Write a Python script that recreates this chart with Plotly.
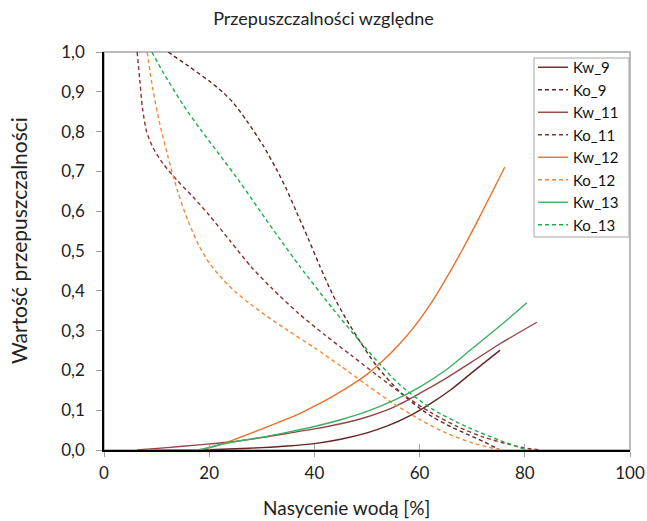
import plotly.graph_objects as go

# ---- data ----
kw9_x = [12, 20, 25, 30, 35, 40, 45, 50, 54, 58, 62, 66, 70, 75.3]
kw9_y = [0, 0.001, 0.003, 0.006, 0.01, 0.016, 0.027, 0.043, 0.061, 0.085, 0.116, 0.152, 0.195, 0.251]

ko9_x = [12.2, 16, 20, 22.5, 24.6, 27.1, 30.3, 32.8, 34.7, 36.6, 38.8, 41, 43.5, 46, 48.7, 51.9, 56.3, 60, 62.5, 66, 69, 72, 75.3]
ko9_y = [1.0, 0.965, 0.927, 0.9, 0.872, 0.828, 0.764, 0.705, 0.655, 0.598, 0.532, 0.463, 0.39, 0.33, 0.272, 0.21, 0.145, 0.105, 0.083, 0.058, 0.04, 0.022, 0.0]

kw11_x = [6.3, 12, 18, 24, 30, 35, 40, 45, 50, 55, 60, 65, 70, 75.3, 82.3]
kw11_y = [0, 0.006, 0.013, 0.02, 0.031, 0.042, 0.053, 0.066, 0.083, 0.107, 0.142, 0.18, 0.222, 0.267, 0.321]

ko11_x = [6.3, 6.8, 7.3, 8.1, 9.3, 11.2, 14, 17, 20, 24, 28, 32, 37, 42, 47, 52, 57, 62, 67, 72, 77, 80.5, 83]
ko11_y = [1.0, 0.93, 0.86, 0.80, 0.76, 0.72, 0.676, 0.635, 0.59, 0.525, 0.46, 0.405, 0.343, 0.289, 0.238, 0.187, 0.138, 0.095, 0.06, 0.033, 0.014, 0.004, 0.0]

kw12_x = [8.2, 14, 18, 20.2, 24.5, 31, 37.3, 40, 43.5, 47, 50, 53, 56, 59, 62, 65, 68, 71, 73.5, 76.2]
kw12_y = [0, 0, 0.001, 0.006, 0.025, 0.058, 0.092, 0.11, 0.135, 0.163, 0.19, 0.224, 0.264, 0.31, 0.365, 0.43, 0.5, 0.575, 0.64, 0.711]

ko12_x = [8.2, 9.3, 10.6, 12.2, 14, 16, 18, 20, 22.5, 25, 28, 31, 35, 40, 45, 50, 55, 60, 65, 70, 75.3]
ko12_y = [1.0, 0.905, 0.82, 0.735, 0.65, 0.575, 0.515, 0.47, 0.43, 0.397, 0.365, 0.336, 0.3, 0.257, 0.211, 0.163, 0.117, 0.077, 0.043, 0.018, 0.0]

kw13_x = [8.2, 12, 18, 21, 24.5, 30, 35, 40, 45, 50, 55, 60, 65, 70, 75.3, 80.4]
kw13_y = [0, 0, 0.001, 0.01, 0.02, 0.032, 0.045, 0.059, 0.076, 0.097, 0.124, 0.158, 0.201, 0.255, 0.312, 0.37]

ko13_x = [9.1, 11.2, 15, 18.3, 21.5, 25.9, 29.7, 32.9, 37.3, 43.5, 48.7, 52.5, 56.3, 62.5, 69, 75.3, 80.4]
ko13_y = [1.0, 0.95, 0.868, 0.806, 0.75, 0.672, 0.6, 0.54, 0.46, 0.355, 0.272, 0.215, 0.163, 0.102, 0.058, 0.024, 0.0]

x_ticks = [0, 20, 40, 60, 80, 100]
y_ticks = [0.0, 0.1, 0.2, 0.3, 0.4, 0.5, 0.6, 0.7, 0.8, 0.9, 1.0]

series = [
    ("Kw_9", kw9_x, kw9_y, "#632523", "solid"),
    ("Ko_9", ko9_x, ko9_y, "#632523", "4px,3px"),
    ("Kw_11", kw11_x, kw11_y, "#954545", "solid"),
    ("Ko_11", ko11_x, ko11_y, "#8c3030", "4px,3px"),
    ("Kw_12", kw12_x, kw12_y, "#ea7127", "solid"),
    ("Ko_12", ko12_x, ko12_y, "#f0893c", "4px,3px"),
    ("Kw_13", kw13_x, kw13_y, "#3cb060", "solid"),
    ("Ko_13", ko13_x, ko13_y, "#1fae4c", "4px,3px"),
]

FONT = "Lato"
L, R, T, B = 104, 17, 52, 71
W, H = 647, 521
PW, PH = W - L - R, H - T - B


def px_to_paper_x(px):
    return (px - L) / PW


def px_to_paper_y(py):
    return (H - B - py) / PH


fig = go.Figure()
for name, xs, ys, col, dash in series:
    fig.add_trace(go.Scatter(
        x=xs, y=ys, name=name, mode="lines",
        line=dict(color=col, width=1.4, dash=dash, shape="spline", smoothing=0.7),
    ))

# invisible helper trace for the inner half of the crossing x ticks
fig.add_trace(go.Scatter(x=[None], y=[None], xaxis="x2", showlegend=False, hoverinfo="skip"))

fig.update_layout(
    width=W, height=H,
    margin=dict(l=L, r=R, t=T, b=B),
    paper_bgcolor="white", plot_bgcolor="white",
    separators=", ",
    font=dict(family=FONT, size=15, color="#222222"),
    title=dict(text="Przepuszczalności względne", x=0.5, xanchor="center",
               y=0.965, yanchor="middle", font=dict(size=18, color="#222222")),
    xaxis=dict(range=[0, 100], tickvals=x_ticks, ticktext=[str(v) for v in x_ticks],
               automargin=False,
               showgrid=False, zeroline=False, showline=True, linecolor="black", linewidth=1.5,
               ticks="outside", ticklen=5, tickcolor="#a0a0a0", tickwidth=1,
               tickfont=dict(size=17), ticklabelstandoff=2),
    xaxis2=dict(range=[0, 100], overlaying="x", anchor="y", side="bottom", automargin=False,
                tickvals=x_ticks, showticklabels=False, showgrid=False, zeroline=False,
                showline=False, ticks="inside", ticklen=6, tickcolor="#a0a0a0", tickwidth=1),
    yaxis=dict(range=[0, 1.0], tickvals=y_ticks, tickformat=".1f", automargin=False,
               showgrid=False, zeroline=False, showline=True, linecolor="black", linewidth=1.5,
               ticks="outside", ticklen=6, tickcolor="#a0a0a0", tickwidth=1,
               tickfont=dict(size=17), ticklabelstandoff=8),
    legend=dict(x=px_to_paper_x(533), y=px_to_paper_y(51), xanchor="left", yanchor="top",
                bgcolor="rgba(0,0,0,0)", borderwidth=0,
                font=dict(size=15, color="#111111"), itemwidth=30,
                tracegroupgap=0),
    shapes=[
        dict(type="rect", xref="paper", yref="paper", x0=0, x1=1, y0=0, y1=1,
             line=dict(color="#a6a6a6", width=1.5), layer="below"),
        dict(type="rect", xref="paper", yref="paper",
             x0=px_to_paper_x(534), x1=px_to_paper_x(629),
             y0=px_to_paper_y(237), y1=px_to_paper_y(58),
             line=dict(color="#a6a6a6", width=1), fillcolor="white", layer="below"),
    ],
    annotations=[
        dict(text="Nasycenie wodą [%]", xref="paper", yref="paper",
             x=px_to_paper_x(346), y=px_to_paper_y(507), xanchor="center", yanchor="middle",
             showarrow=False, font=dict(size=19, color="#222222")),
        dict(text="Wartość przepuszczalności", xref="paper", yref="paper",
             x=px_to_paper_x(18), y=px_to_paper_y(241), xanchor="center", yanchor="middle",
             textangle=-90, showarrow=False, font=dict(size=21, color="#222222")),
    ],
)

fig.write_html("out.html")
